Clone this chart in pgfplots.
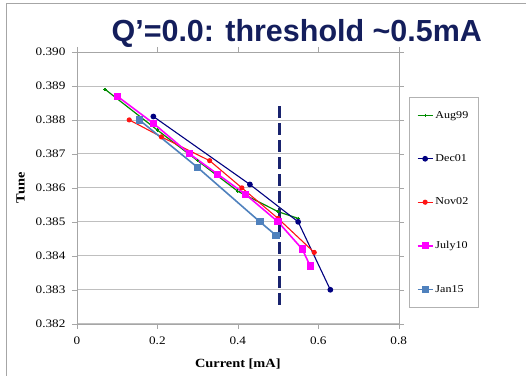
\documentclass[border=0pt]{standalone}
\usepackage{pgfplots}
\pgfplotsset{compat=1.18}
\usepackage{fontspec}
\setmainfont{Liberation Serif}[FakeStretch=1.15]
\newfontfamily\titlefont{Liberation Sans}
\definecolor{titleblue}{RGB}{20,30,92}
\definecolor{cgreen}{RGB}{0,140,0}
\definecolor{cnavy}{RGB}{0,0,128}
\definecolor{cred}{RGB}{255,20,20}
\definecolor{cmag}{RGB}{255,0,255}
\definecolor{csteel}{RGB}{79,129,189}
\definecolor{cdash}{RGB}{25,35,110}
\begin{document}
\begin{tikzpicture}
\path (0pt,0pt) rectangle (526pt,376pt);
\draw[gray!70,line width=0.8pt] (6pt,0pt) -- (6pt,372.5pt) -- (526pt,372.5pt);
\node[font=\titlefont\bfseries\fontsize{30.5}{34}\selectfont,text=titleblue] at (297pt,343pt) {Q’=0.0: threshold \textasciitilde0.5mA};
\begin{axis}[
  at={(77pt,52pt)}, anchor=south west,
  scale only axis, width=322pt, height=272pt,
  xmin=0, xmax=0.8, ymin=0.382, ymax=0.390,
  xtick={0,0.2,...,0.8}, ytick={0.382,0.383,...,0.390},
  yticklabel style={/pgf/number format/.cd,fixed,fixed zerofill,precision=3, /tikz/xshift=-3pt},
  xticklabel style={/pgf/number format/.cd,fixed, /tikz/yshift=-5pt},
  /pgf/number format/assume math mode=true,
  ticklabel style={font=\fontsize{11.5}{13}\selectfont},
  tick align=outside, tick style={gray!70, major tick length=5pt},
  ymajorgrids, grid style={gray!50, line width=0.8pt},
  axis line style={gray!70},
  xlabel={\textbf{Current [mA]}}, ylabel={\textbf{Tune}},
  label style={font=\fontsize{12.5}{14}\selectfont},
  xlabel style={yshift=-7pt},
  ylabel style={yshift=4pt},
  legend style={at={(1.031,0.8346)}, anchor=north west, draw=gray!60,
    font=\fontsize{10.5}{12}\selectfont, row sep=31pt, inner ysep=12pt, inner xsep=8pt,
    cells={anchor=west}},
  legend image code/.code={\draw[mark repeat=2,mark phase=2] plot coordinates {(0pt,0pt)(7.5pt,0pt)(15pt,0pt)};},
]
\addplot[cgreen, line width=1.2pt, mark=+, mark size=1.8pt] coordinates {
(0.07,0.3889) (0.2,0.3877) (0.3,0.3868) (0.4,0.3859) (0.5,0.3853) (0.55,0.3851)};
\addlegendentry{Aug99}
\addplot[cnavy, line width=1.1pt, mark=*, mark size=2.3pt] coordinates {
(0.19,0.3881) (0.43,0.3861) (0.55,0.3850) (0.63,0.3830)};
\addlegendentry{Dec01}
\addplot[cred, line width=1.1pt, mark=*, mark size=2pt] coordinates {
(0.13,0.3880) (0.21,0.3875) (0.33,0.3868) (0.41,0.3860) (0.50,0.3851) (0.59,0.3841)};
\addlegendentry{Nov02}
\addplot[cmag, line width=1.6pt, mark=square*, mark size=2.8pt] coordinates {
(0.10,0.3887) (0.19,0.3879) (0.28,0.3870) (0.35,0.3864) (0.42,0.3858) (0.50,0.3850) (0.56,0.3842) (0.58,0.3837)};
\addlegendentry{July10}
\addplot[csteel, line width=1.6pt, mark=square*, mark size=2.8pt] coordinates {
(0.155,0.3880) (0.30,0.3866) (0.455,0.3850) (0.495,0.3846)};
\addlegendentry{Jan15}
\addplot[cdash, line width=3.5pt, dash pattern=on 12pt off 5pt, forget plot] coordinates {
(0.504,0.3884) (0.504,0.3825)};
\end{axis}
\end{tikzpicture}
\end{document}
